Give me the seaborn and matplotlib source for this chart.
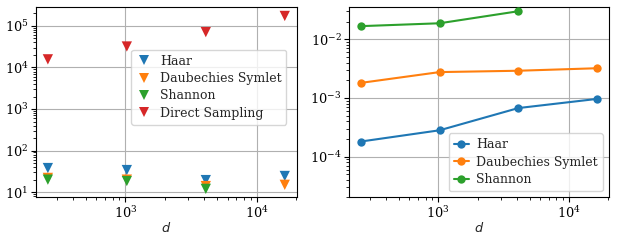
import numpy as np
import pandas as pd
import matplotlib
matplotlib.use("Agg")
import matplotlib.pyplot as plt
import seaborn as sns

# ---- data ----
d_vals = [256, 1024, 4096, 16384]

# left panel (scatter)
left_haar = [38, 34, 19.5, 24.5]
left_daub = [22, 20, 14, 15]
left_shannon = [20, 18.5, 12, np.nan]
left_direct = [15700, 32000, 71000, 174000]

# right panel (lines)
right_haar = [1.8e-4, 2.8e-4, 6.7e-4, 9.6e-4]
right_daub = [1.8e-3, 2.75e-3, 2.9e-3, 3.2e-3]
right_shannon = [0.0167, 0.0187, 0.0300, np.nan]

left_names = ["Haar", "Daubechies Symlet", "Shannon", "Direct Sampling"]
right_names = ["Haar", "Daubechies Symlet", "Shannon"]

palette = ["#1f77b4", "#ff7f0e", "#2ca02c", "#d62728"]

sns.set_style("ticks")
plt.rcParams["font.family"] = ["DejaVu Serif"]
plt.rcParams["mathtext.fontset"] = "dejavusans"
plt.rcParams["font.size"] = 9.3
plt.rcParams["axes.edgecolor"] = "black"
plt.rcParams["axes.linewidth"] = 0.8
plt.rcParams["xtick.color"] = "black"
plt.rcParams["ytick.color"] = "black"

rows = []
for name, vals in zip(left_names, [left_haar, left_daub, left_shannon, left_direct]):
    for d, v in zip(d_vals, vals):
        if not np.isnan(v):
            rows.append({"d": d, "value": v, "method": name})
df_left = pd.DataFrame(rows)

rows = []
for name, vals in zip(right_names, [right_haar, right_daub, right_shannon]):
    for d, v in zip(d_vals, vals):
        if not np.isnan(v):
            rows.append({"d": d, "value": v, "method": name})
df_right = pd.DataFrame(rows)

fig = plt.figure(figsize=(6.18, 2.41), dpi=100)
ax1 = fig.add_axes([0.0583, 0.1805, 0.480 - 0.0583, 0.9697 - 0.1805])
ax2 = fig.add_axes([0.5647, 0.1805, 0.9854 - 0.5647, 0.9697 - 0.1805])

sns.scatterplot(data=df_left, x="d", y="value", hue="method", hue_order=left_names,
                palette=palette, marker="v", s=55, linewidth=0, ax=ax1, zorder=3)
ax1.set_xscale("log")
ax1.set_yscale("log")
ax1.grid(True, which="major", color="#b0b0b0", linewidth=0.8)
ax1.set_xlabel("$d$", fontsize=9.3, labelpad=0)
ax1.set_ylabel("")
ax1.legend(loc="center right", bbox_to_anchor=(0.985, 0.58), fontsize=9.0,
           handlelength=1.3, handletextpad=0.6, borderpad=0.4,
           labelspacing=0.35, frameon=True)

sns.lineplot(data=df_right, x="d", y="value", hue="method", hue_order=right_names,
             palette=palette[:3], marker="o", markersize=6, markeredgewidth=0,
             linewidth=1.5, ax=ax2, zorder=3)
ax2.set_xscale("log")
ax2.set_yscale("log")
ax2.set_ylim(2e-5, 3.5e-2)
ax2.grid(True, which="major", color="#b0b0b0", linewidth=0.8)
ax2.set_xlabel("$d$", fontsize=9.3, labelpad=0)
ax2.set_ylabel("")
ax2.legend(loc="lower right", fontsize=9.0, handlelength=1.2, handletextpad=0.6,
           borderpad=0.4, labelspacing=0.35)

for ax in (ax1, ax2):
    ax.set_xlim(10 ** 2.318, 10 ** 4.305)
    ax.tick_params(which="major", direction="out", length=3.5, width=0.8, pad=2)
    ax.tick_params(which="minor", direction="out", length=2, width=0.6)

fig.savefig("out.png", dpi=100)
